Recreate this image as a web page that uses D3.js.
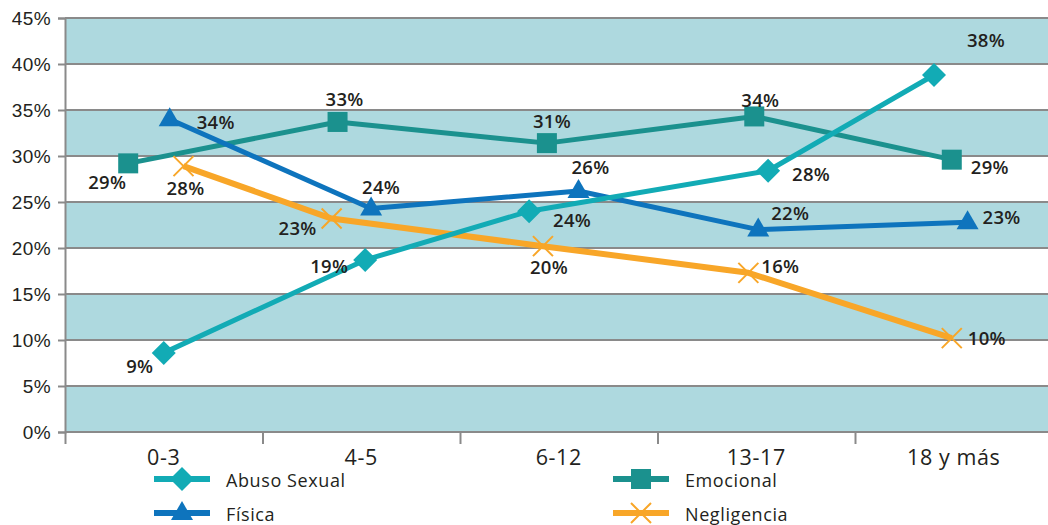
<!DOCTYPE html>
<meta charset="utf-8">
<style>
  body { margin: 0; background: #fff; }
  svg { font-family: "Open Sans", Lato, sans-serif; }
  .tick text { fill: #231f20; }
  .lbl { font-weight: 600; font-size: 18.5px; fill: #231f20; letter-spacing: 0.3px; }
</style>
<body>
<div id="chart"></div>
<script src="https://d3js.org/d3.v7.min.js"></script>
<script>

// categories and y ticks
var categories = ["0-3", "4-5", "6-12", "13-17", "18 y más"];
var yTicks = [0, 5, 10, 15, 20, 25, 30, 35, 40, 45];

// series values (percent)
var abusoSexual = [8.6, 18.7, 24.0, 28.4, 38.8];
var emocional   = [29.2, 33.7, 31.4, 34.3, 29.6];
var fisica      = [34.0, 24.3, 26.2, 22.0, 22.8];
var negligencia = [28.9, 23.2, 20.2, 17.3, 10.2];

// where each point sits along the x axis, in category units (0 = left edge of "0-3")
var abusoX       = [0.50, 1.52, 2.35, 3.56, 4.40];
var emocionalX   = [0.32, 1.38, 2.44, 3.49, 4.49];
var fisicaX      = [0.53, 1.55, 2.60, 3.51, 4.57];
var negligenciaX = [0.60, 1.35, 2.42, 3.46, 4.49];

// data labels as printed
var abusoLbl       = ["9%", "19%", "24%", "28%", "38%"];
var emocionalLbl   = ["29%", "33%", "31%", "34%", "29%"];
var fisicaLbl      = ["34%", "24%", "26%", "22%", "23%"];
var negligenciaLbl = ["28%", "23%", "20%", "16%", "10%"];

var width = 1048, height = 525;
var plotLeft = 65, plotTop = 18, plotBottom = 432;

var svg = d3.select("#chart").append("svg")
  .attr("width", width)
  .attr("height", height);

var x = d3.scaleLinear().domain([0, categories.length]).range([plotLeft, 1052.5]);
var y = d3.scaleLinear().domain([0, 45]).range([plotBottom, plotTop]);

// label offsets from their point (px), per series
var offs = {
  abuso: [[-24, 14], [-36, 7], [43, 9], [43, 4], [52, -35]],
  emocional: [[-21, 19], [7, -22], [5, -22], [6, -16], [38, 8]],
  fisica: [[46, 3], [10, -21], [12, -23], [32, -16], [34, -5]],
  negligencia: [[2, 22], [-34, 10], [6, 21], [32, -6], [35, 0]]
};

// alternating bands
var bands = d3.range(0, 45, 5).filter(function(d) { return (d / 5) % 2 == 0; });
svg.selectAll("rect.band")
  .data(bands)
  .enter().append("rect")
  .attr("class", "band")
  .attr("x", plotLeft)
  .attr("width", width - plotLeft)
  .attr("y", function(d) { return y(d + 5); })
  .attr("height", function(d) { return y(d) - y(d + 5); })
  .attr("fill", "#aed9df");

// gridlines
svg.selectAll("line.grid")
  .data(yTicks)
  .enter().append("line")
  .attr("x1", plotLeft).attr("x2", width)
  .attr("y1", function(d) { return y(d); })
  .attr("y2", function(d) { return y(d); })
  .attr("stroke", "#8a8a8a")
  .attr("stroke-width", 2);

// y axis
var yAxis = svg.append("g")
  .attr("transform", "translate(" + plotLeft + ",0)")
  .call(d3.axisLeft(y).tickValues(yTicks).tickSize(7).tickPadding(7)
    .tickFormat(function(d) { return d + "%"; }));
yAxis.select(".domain").attr("stroke", "#8a8a8a").attr("stroke-width", 2);
yAxis.selectAll(".tick line").attr("stroke", "#8a8a8a").attr("stroke-width", 2);
yAxis.selectAll(".tick text").style("font-size", "19px").style("letter-spacing", "0.4px");

// x axis
var xAxis = svg.append("g")
  .attr("transform", "translate(0," + plotBottom + ")")
  .call(d3.axisBottom(x).tickValues(d3.range(0, categories.length)).tickSize(12).tickFormat(""));
xAxis.select(".domain").remove();
xAxis.selectAll(".tick line").attr("stroke", "#8a8a8a").attr("stroke-width", 2);

svg.selectAll("text.cat")
  .data(categories)
  .enter().append("text")
  .attr("class", "cat")
  .attr("x", function(d, i) { return x(i + 0.5); })
  .attr("y", 465)
  .attr("text-anchor", "middle")
  .style("font-size", "21.5px")
  .style("letter-spacing", "0.6px")
  .attr("fill", "#231f20")
  .text(function(d) { return d; });

// marker shapes
var markerPath = {
  diamond: "M0,-12L12,0L0,12L-12,0Z",
  square: "M-10,-10H10V10H-10Z",
  triangle: "M0,-12L11,7H-11Z",
  cross: "M-10,-10L10,10M-10,10L10,-10"
};

var series = [
  { name: "Emocional", values: emocional, xs: emocionalX, lbl: emocionalLbl, off: offs.emocional,
    color: "#1b918e", shape: "square", lw: 5 },
  { name: "Física", values: fisica, xs: fisicaX, lbl: fisicaLbl, off: offs.fisica,
    color: "#0e74bd", shape: "triangle", lw: 5 },
  { name: "Negligencia", values: negligencia, xs: negligenciaX, lbl: negligenciaLbl, off: offs.negligencia,
    color: "#f8a628", shape: "cross", lw: 6 },
  { name: "Abuso Sexual", values: abusoSexual, xs: abusoX, lbl: abusoLbl, off: offs.abuso,
    color: "#12abb5", shape: "diamond", lw: 5 }
];

var line = d3.line()
  .x(function(d) { return x(d.x); })
  .y(function(d) { return y(d.v); });

function drawMarker(g, shape, color) {
  var p = g.append("path").attr("d", markerPath[shape]);
  if (shape == "cross") p.attr("fill", "none").attr("stroke", color).attr("stroke-width", 2);
  else p.attr("fill", color);
}

series.forEach(function(s) {
  var pts = s.values.map(function(v, i) { return { v: v, x: s.xs[i] }; });
  svg.append("path")
    .datum(pts)
    .attr("d", line)
    .attr("fill", "none")
    .attr("stroke", s.color)
    .attr("stroke-width", s.lw)
    .attr("stroke-linejoin", "round");
  pts.forEach(function(p) {
    var g = svg.append("g").attr("transform", "translate(" + x(p.x) + "," + y(p.v) + ")");
    drawMarker(g, s.shape, s.color);
  });
});

// data labels on top
series.forEach(function(s) {
  s.values.forEach(function(v, i) {
    svg.append("text")
      .attr("class", "lbl")
      .attr("x", x(s.xs[i]) + s.off[i][0])
      .attr("y", y(v) + s.off[i][1])
      .attr("dy", "0.35em")
      .attr("text-anchor", "middle")
      .text(s.lbl[i]);
  });
});

// legend
var legendItems = [
  { name: "Abuso Sexual", color: "#12abb5", shape: "diamond", lx: 154, ly: 479 },
  { name: "Emocional", color: "#1b918e", shape: "square", lx: 613, ly: 479 },
  { name: "Física", color: "#0e74bd", shape: "triangle", lx: 154, ly: 513 },
  { name: "Negligencia", color: "#f8a628", shape: "cross", lx: 613, ly: 513 }
];
legendItems.forEach(function(d) {
  var g = svg.append("g").attr("transform", "translate(" + d.lx + "," + d.ly + ")");
  g.append("line").attr("x1", 0).attr("x2", 56)
    .attr("stroke", d.color).attr("stroke-width", 6);
  var m = g.append("g").attr("transform", "translate(28,0)");
  drawMarker(m, d.shape, d.color);
  g.append("text")
    .attr("x", 72)
    .attr("y", 2)
    .attr("dy", "0.33em")
    .style("font-size", "18px")
    .style("letter-spacing", "0.6px")
    .attr("fill", "#231f20")
    .text(d.name);
});

</script>
